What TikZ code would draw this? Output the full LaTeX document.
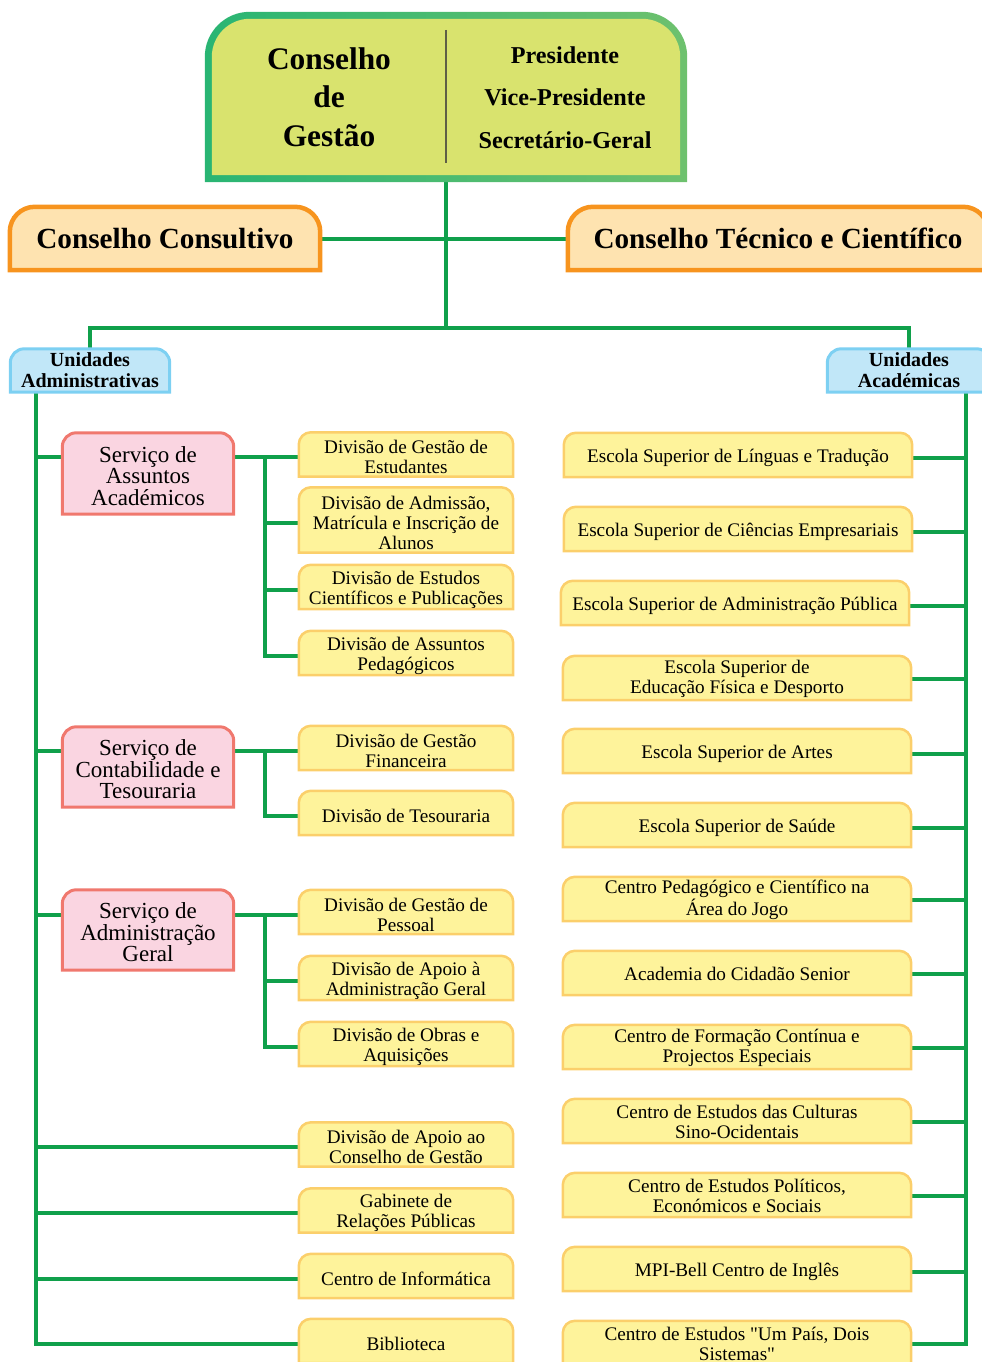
\documentclass[tikz,border=0pt]{standalone}
\usepackage{fontspec}
\setmainfont{Liberation Serif}[Ligatures=TeXOff]
\usetikzlibrary{calc,backgrounds}
\definecolor{lnk}{RGB}{16,160,75}
\definecolor{topfill}{RGB}{217,227,110}
\definecolor{topl}{RGB}{41,181,115}
\definecolor{topr}{RGB}{110,193,110}
\definecolor{divc}{RGB}{95,95,70}
\definecolor{ofill}{RGB}{254,227,176}
\definecolor{obord}{RGB}{247,148,30}
\definecolor{bfill}{RGB}{193,231,248}
\definecolor{bbord}{RGB}{125,208,242}
\definecolor{pfill}{RGB}{250,213,225}
\definecolor{pbord}{RGB}{240,120,110}
\definecolor{yfill}{RGB}{254,243,155}
\definecolor{ybord}{RGB}{251,207,107}
% #1 = vertical offset of the drawn box above the node, #2 node, #3 style, #4 corner radius
\newcommand\tbox[4][0pt]{\path[#3] ([yshift=#1-#4]#2.north west) arc[start angle=180,end angle=90,radius=#4] -- ([xshift=-#4,yshift=#1]#2.north east) arc[start angle=90,end angle=0,radius=#4] -- ([yshift=#1]#2.south east) -- ([yshift=#1]#2.south west) -- cycle;}
\tikzset{
  box/.style={inner sep=0pt, align=center},
  ynode/.style={box, minimum width=214pt, minimum height=44pt, font=\fontsize{19.2}{20}\selectfont},
  rnode/.style={box, minimum width=348pt, minimum height=44pt, font=\fontsize{19.2}{20}\selectfont},
  pnode/.style={box, minimum width=171pt, minimum height=80pt, font=\fontsize{23}{21.5}\selectfont},
  onode/.style={box, minimum height=63pt, font=\fontsize{29.2}{32}\selectfont\bfseries},
  bnode/.style={box, minimum height=43pt, font=\fontsize{20}{21}\selectfont\bfseries},
  conn/.style={draw=lnk, line width=4pt},
  ylw/.style={fill=yfill, draw=ybord, line width=2.5pt},
  pnk/.style={fill=pfill, draw=pbord, line width=3pt},
  blu/.style={fill=bfill, draw=bbord, line width=3pt},
  org/.style={fill=ofill, draw=obord, line width=4.5pt},
}
\begin{document}
\begin{tikzpicture}[x=1pt,y=-1pt]
\useasboundingbox (0,0) rectangle (982,1362);
% top box
\node[box, minimum width=482pt, minimum height=170pt] (cgo) at (446,97) {};
\node[box, minimum width=468pt, minimum height=156pt] (cg) at (446,97) {};
\node[box, font=\fontsize{31.4}{38.5}\selectfont\bfseries] (cgl) at (329,97) {Conselho\\de\\Gestão};
\node[box, font=\fontsize{24.2}{42.5}\selectfont\bfseries] (cgr) at (565,97.5) {Presidente\\Vice-Presidente\\Secretário-Geral};
\draw[divc, line width=1.8pt] ($(cg.north)+(0,11)$) -- ($(cg.south)+(0,-12)$);
% councils
\node[onode, minimum width=310pt] (cc) at (165,238.5) {Conselho Consultivo};
\node[onode, minimum width=420pt] (ctc) at (778,238.5) {Conselho Técnico e Científico};
% units
\node[bnode, minimum width=159pt] (ua) at (90,370.5) {Unidades\\Administrativas};
\node[bnode, minimum width=163pt] (uac) at (909,370.5) {Unidades\\Académicas};
% services
\node[pnode, minimum height=81pt] (sa) at (148,476) {Serviço de\\Assuntos\\Académicos};
\node[pnode] (sc) at (148,769.5) {Serviço de\\Contabilidade e\\Tesouraria};
\node[pnode] (sg) at (148,932.5) {Serviço de\\Administração\\Geral};
% divisions
\node[ynode] (d1) at (406,457) {Divisão de Gestão de\\Estudantes};
\node[ynode, minimum height=65pt] (d2) at (406,522.5) {Divisão de Admissão,\\Matrícula e Inscrição de\\Alunos};
\node[ynode] (d3) at (406,589.5) {Divisão de Estudos\\Científicos e Publicações};
\node[ynode] (d4) at (406,655.5) {Divisão de Assuntos\\Pedagógicos};
\node[ynode] (d5) at (406,750.5) {Divisão de Gestão\\Financeira};
\node[ynode] (d6) at (406,815.5) {Divisão de Tesouraria};
\node[ynode] (d7) at (406,914.5) {Divisão de Gestão de\\Pessoal};
\node[ynode] (d8) at (406,980.5) {Divisão de Apoio à\\Administração Geral};
\node[ynode] (d9) at (406,1046.5) {Divisão de Obras e\\Aquisições};
\node[ynode] (d10) at (406,1147) {Divisão de Apoio ao\\Conselho de Gestão};
\node[ynode] (d11) at (406,1213) {Gabinete de\\Relações Públicas};
\node[ynode] (d12) at (406,1278.5) {Centro de Informática};
\node[ynode] (d13) at (406,1343.5) {Biblioteca};
% academic units
\node[rnode] (r1) at (738,457.5) {Escola Superior de Línguas e Tradução};
\node[rnode] (r2) at (738,531.5) {Escola Superior de Ciências Empresariais};
\node[rnode] (r3) at (735,605.5) {Escola Superior de Administração Pública};
\node[rnode] (r4) at (737,679) {Escola Superior de\\Educação Física e Desporto};
\node[rnode] (r5) at (737,753.5) {Escola Superior de Artes};
\node[rnode] (r6) at (737,827.5) {Escola Superior de Saúde};
\node[rnode] (r7) at (737,900) {Centro Pedagógico e Científico na\\Área do Jogo};
\node[rnode] (r8) at (737,974) {Academia do Cidadão Senior};
\node[rnode] (r9) at (737,1048) {Centro de Formação Contínua e\\Projectos Especiais};
\node[rnode] (r10) at (737,1122) {Centro de Estudos das Culturas\\Sino-Ocidentais};
\node[rnode] (r11) at (737,1196) {Centro de Estudos Políticos,\\Económicos e Sociais};
\node[rnode] (r12) at (737,1271.5) {MPI-Bell Centro de Inglês};
\node[rnode] (r13) at (737,1344) {Centro de Estudos "Um País, Dois\\Sistemas"};
\coordinate (j) at (446,328);
\coordinate (bl) at (36,393);
\coordinate (bm) at (265,0);
\coordinate (br) at (966,393);
\begin{scope}[on background layer]
\clip (0,0) rectangle (982,1362);
% connectors
\draw[conn] (cgo.south) -- (j);
\draw[conn] (cc.east) -- (ctc.west);
\draw[conn] (ua.north) |- (j) -| (uac.north);
\draw[conn] (bl) |- (d13.west);
\draw[conn] (d1.west -| bl) -- (sa.west |- d1.west);
\draw[conn] (d5.west -| bl) -- (sc.west |- d5.west);
\draw[conn] (d7.west -| bl) -- (sg.west |- d7.west);
\foreach \n in {d10,d11,d12} {\draw[conn] (\n.west -| bl) -- (\n.west);}
\draw[conn] (sa.east |- d1.west) -- (d1.west);
\draw[conn] (d1.west -| bm) |- (d4.west);
\draw[conn] (d2.west -| bm) -- (d2.west);
\draw[conn] (d3.west -| bm) -- (d3.west);
\draw[conn] (sc.east |- d5.west) -- (d5.west);
\draw[conn] (d5.west -| bm) |- (d6.west);
\draw[conn] (sg.east |- d7.west) -- (d7.west);
\draw[conn] (d7.west -| bm) |- (d9.west);
\draw[conn] (d8.west -| bm) -- (d8.west);
\draw[conn] (br) |- (r13.east);
\foreach \n in {r1,r2,r3,r4,r5,r6,r7,r8,r9,r10,r11,r12} {\draw[conn] (\n.east) -- (\n.east -| br);}
% shapes
\tbox{cgo}{left color=topl, right color=topr}{45pt}
\tbox{cg}{fill=topfill}{38pt}
\tbox{cc}{org}{25pt}
\tbox{ctc}{org}{25pt}
\tbox{ua}{blu}{14pt}
\tbox{uac}{blu}{14pt}
\foreach \n in {sa,sc,sg} {\tbox[2.5pt]{\n}{pnk}{14pt}}
\foreach \n in {d1,d2,d3,d4,d5,d6,d7,d8,d9,d10,d11,d12,d13} {\tbox[2.5pt]{\n}{ylw}{12pt}}
\foreach \n in {r1,r2,r3,r5,r6,r12} {\tbox[2.5pt]{\n}{ylw}{12pt}}
\foreach \n in {r4,r7,r8,r9,r10,r11,r13} {\tbox[1pt]{\n}{ylw}{12pt}}
\end{scope}
\end{tikzpicture}
\end{document}
